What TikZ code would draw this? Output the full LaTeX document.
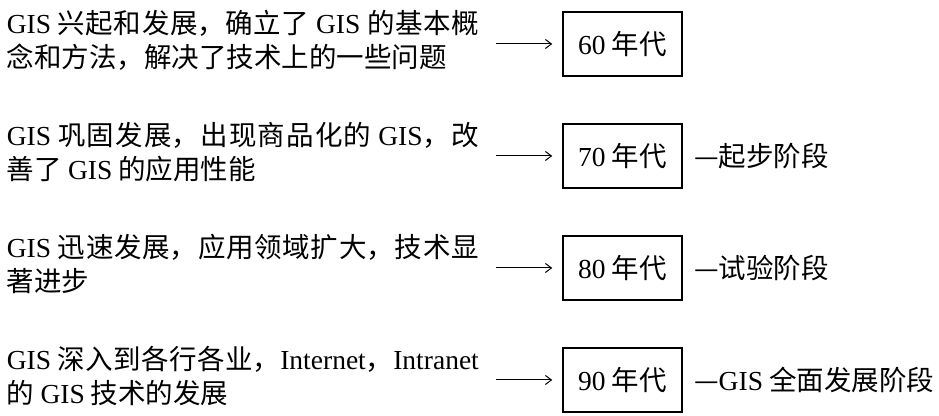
\documentclass[tikz,border=0pt]{standalone}
\usepackage{fontspec}
\setmainfont{Noto Sans CJK SC}
\newfontfamily\latinfont{Liberation Serif}
\newcommand{\en}[1]{{\latinfont #1}}
\usetikzlibrary{arrows.meta, positioning}
\XeTeXlinebreaklocale "zh"
\XeTeXlinebreakskip = 0pt plus 2pt

\begin{document}
\begin{tikzpicture}[x=0.5pt, y=-0.5pt,
  desc/.style={text width=236pt, align=justify, inner sep=0pt, yshift=2pt,
               font=\fontsize{13.75pt}{17pt}\selectfont},
  era/.style={rectangle, draw, line width=0.75pt, minimum width=59.5pt,
              minimum height=32pt, inner sep=0pt,
              font=\fontsize{13.75pt}{16pt}\selectfont},
  stage/.style={inner sep=0pt, font=\fontsize{13.75pt}{16pt}\selectfont},
  arr/.style={-{Straight Barb[length=3pt, width=4.5pt]}, line width=0.5pt,
              shorten <=8.5pt, shorten >=5pt}
]
\useasboundingbox (0,0) rectangle (939,416);

\node[era] (e60) at (622.5,44) {\en{60} 年代};
\node[era, below=23.25pt of e60] (e70) {\en{70} 年代};
\node[era, below=23.25pt of e70] (e80) {\en{80} 年代};
\node[era, below=23.25pt of e80] (e90) {\en{90} 年代};

\node[desc, left=41.5pt of e60] (d60)
  {\en{GIS} 兴起和发展，确立了 \en{GIS} 的基本概\linebreak
   念和方法，解决了技术上的一些问题};
\node[desc, left=41.5pt of e70] (d70)
  {\en{GIS} 巩固发展，出现商品化的 \en{GIS}，改\linebreak
   善了 \en{GIS} 的应用性能};
\node[desc, left=41.5pt of e80] (d80)
  {\en{GIS} 迅速发展，应用领域扩大，技术显\linebreak
   著进步};
\node[desc, left=41.5pt of e90] (d90)
  {\en{GIS} 深入到各行各业，\en{Internet}，\en{Intranet}\linebreak
   的 \en{GIS} 技术的发展};

\node[stage, right=5.5pt of e70] (s70) {—起步阶段};
\node[stage, right=5.5pt of e80] (s80) {—试验阶段};
\node[stage, right=5.5pt of e90] (s90) {—\en{GIS} 全面发展阶段};

\draw[arr] (d60.east |- e60.west) -- (e60.west);
\draw[arr] (d70.east |- e70.west) -- (e70.west);
\draw[arr] (d80.east |- e80.west) -- (e80.west);
\draw[arr] (d90.east |- e90.west) -- (e90.west);
\end{tikzpicture}
\end{document}
